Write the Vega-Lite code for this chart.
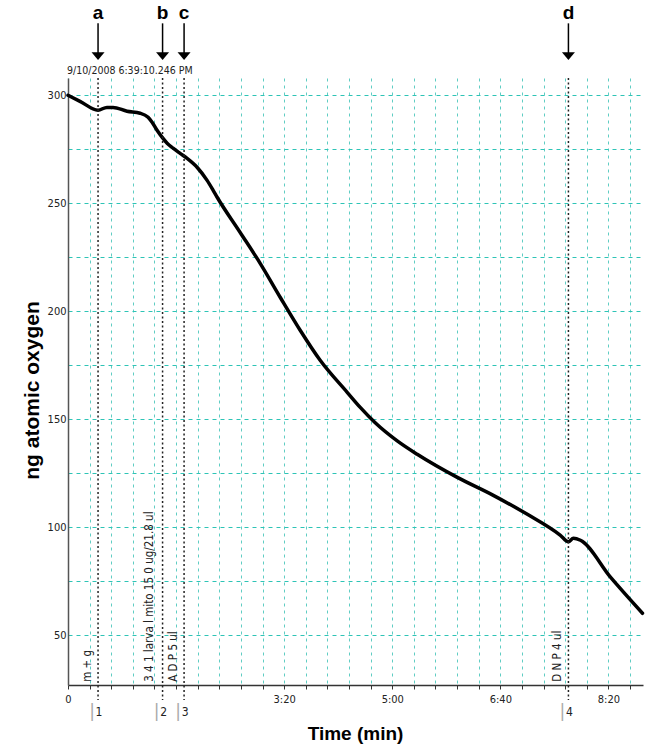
{
  "$schema": "https://vega.github.io/schema/vega-lite/v6.json",
  "width": 575,
  "height": 607,
  "autosize": {"type": "none"},
  "padding": {"left": 68, "top": 78, "right": 8, "bottom": 65},
  "background": "white",
  "config": {"view": {"stroke": null}},
  "datasets": {
    "curve": [
      {"t": 0, "v": 300}, {"t": 11.1, "v": 297.2}, {"t": 27.8, "v": 293.1}, {"t": 36, "v": 294.4},
      {"t": 41.7, "v": 294.4}, {"t": 54.6, "v": 292.6}, {"t": 66.7, "v": 291.7}, {"t": 74.1, "v": 289.8},
      {"t": 77.8, "v": 287.5}, {"t": 82.4, "v": 283.8}, {"t": 87, "v": 280.6}, {"t": 91.7, "v": 277.8},
      {"t": 97.2, "v": 275.5}, {"t": 103.7, "v": 273.1}, {"t": 110.2, "v": 270.8}, {"t": 119.4, "v": 266.7},
      {"t": 128.7, "v": 260.6}, {"t": 134.3, "v": 256.0}, {"t": 138, "v": 252.8}, {"t": 159.3, "v": 236.5},
      {"t": 177.8, "v": 222.2}, {"t": 196.3, "v": 206.5}, {"t": 214.8, "v": 191.2}, {"t": 233.3, "v": 177.3},
      {"t": 258.3, "v": 162.5}, {"t": 270.4, "v": 155.5}, {"t": 284, "v": 148.5}, {"t": 304.6, "v": 140.0},
      {"t": 323.1, "v": 133.8}, {"t": 360.2, "v": 123.1}, {"t": 393.5, "v": 114.8}, {"t": 425, "v": 106.0},
      {"t": 455.6, "v": 96.3}, {"t": 463, "v": 93.3}, {"t": 467.6, "v": 94.9}, {"t": 474.1, "v": 94.0},
      {"t": 501.9, "v": 76.9}, {"t": 531.5, "v": 60.2}
    ],
    "events": [
      {"t": 27.8, "ev": "a", "num": "1"},
      {"t": 87.5, "ev": "b", "num": "2"},
      {"t": 107.4, "ev": "c", "num": "3"},
      {"t": 463, "ev": "d", "num": "4"}
    ],
    "notes": [
      {"t": 18.5, "label": "m + g"},
      {"t": 75.9, "label": "3 4 1 larva l mito 15 0 ug/21.8 ul"},
      {"t": 98, "label": "A D P 5 ul"},
      {"t": 453.7, "label": "D N P 4 ul"}
    ],
    "stamp": [{"t": 0, "label": "9/10/2008 6:39:10.246 PM"}]
  },
  "layer": [
    {
      "data": {"name": "curve"},
      "mark": {"type": "line", "color": "black", "strokeWidth": 3.5, "strokeJoin": "round", "strokeCap": "round", "interpolate": "monotone"},
      "encoding": {
        "x": {
          "field": "t", "type": "quantitative",
          "scale": {"domain": [0, 532], "nice": false, "zero": false},
          "axis": {
            "title": "Time (min)",
            "titleFont": "Liberation Sans", "titleFontSize": 19, "titleFontWeight": "bold", "titleColor": "black",
            "titleBaseline": "alphabetic", "titleY": 54, "titleX": 287,
            "tickCount": 27,
            "labelExpr": "(datum.value % 100 == 0 && datum.value != 100) ? (datum.value == 0 ? '0' : floor(datum.value/60) + ':' + (datum.value % 60 < 10 ? '0' : '') + (datum.value % 60)) : ''",
            "labelFont": "DejaVu Sans Condensed, Liberation Sans",
            "labelFontSize": 11, "labelColor": "#222", "labelPadding": 4, "labelOverlap": false, "labelFlush": false, "labelBound": false,
            "ticks": true, "tickSize": 4, "tickColor": "#333", "tickWidth": 1,
            "domainColor": "#333", "domainWidth": 1.5,
            "grid": true, "gridColor": "#5fcdc3", "gridDash": [3, 4], "gridWidth": 1
          }
        },
        "y": {
          "field": "v", "type": "quantitative",
          "scale": {"domain": [27, 308], "nice": false, "zero": false},
          "axis": {
            "title": "ng atomic oxygen",
            "titleFont": "Liberation Sans", "titleFontSize": 21, "titleFontWeight": "bold", "titleColor": "black",
            "titleX": -26, "titleY": 312, "titleBaseline": "bottom",
            "values": [50,75,100,125,150,175,200,225,250,275,300],
            "labelExpr": "datum.value % 50 == 0 ? datum.value : ''",
            "labelFont": "DejaVu Sans Condensed, Liberation Sans",
            "labelFontSize": 11, "labelColor": "#222", "labelPadding": 2,
            "ticks": false,
            "domainColor": "#555", "domainWidth": 1.5,
            "grid": true, "gridColor": "#2ec4b6", "gridDash": [4, 4], "gridWidth": 1
          }
        }
      }
    },
    {
      "data": {"name": "events"},
      "mark": {"type": "rule", "color": "#222", "strokeWidth": 1.5, "strokeDash": [2, 2.5]},
      "encoding": {
        "x": {"field": "t", "type": "quantitative"},
        "y": {"datum": 308, "type": "quantitative"},
        "y2": {"datum": 20}
      }
    },
    {
      "data": {"name": "events"},
      "mark": {"type": "rule", "color": "black", "strokeWidth": 1.5},
      "encoding": {
        "x": {"field": "t", "type": "quantitative"},
        "y": {"datum": 333.3, "type": "quantitative"},
        "y2": {"datum": 319}
      }
    },
    {
      "data": {"name": "events"},
      "mark": {"type": "point", "shape": "M-1,-0.6L1,-0.6L0,0.6Z", "filled": true, "color": "black", "opacity": 1, "size": 169},
      "encoding": {
        "x": {"field": "t", "type": "quantitative"},
        "y": {"datum": 318.1, "type": "quantitative"}
      }
    },
    {
      "data": {"name": "events"},
      "mark": {"type": "text", "font": "Liberation Sans", "fontSize": 19, "fontWeight": "bold", "color": "black", "baseline": "middle", "align": "center"},
      "encoding": {
        "x": {"field": "t", "type": "quantitative"},
        "y": {"datum": 338, "type": "quantitative"},
        "text": {"field": "ev"}
      }
    },
    {
      "data": {"name": "events"},
      "mark": {"type": "text", "font": "DejaVu Sans Condensed, Liberation Sans", "fontSize": 12, "color": "#222", "baseline": "middle", "align": "center", "dx": 1},
      "encoding": {
        "x": {"field": "t", "type": "quantitative"},
        "y": {"datum": 14.5, "type": "quantitative"},
        "text": {"field": "num"}
      }
    },
    {
      "data": {"name": "events"},
      "mark": {"type": "text", "font": "DejaVu Sans", "fontSize": 17, "color": "#aaa", "baseline": "middle", "align": "center", "dx": -6, "text": "|"},
      "encoding": {
        "x": {"field": "t", "type": "quantitative"},
        "y": {"datum": 14.5, "type": "quantitative"}
      }
    },
    {
      "data": {"name": "stamp"},
      "mark": {"type": "text", "font": "DejaVu Sans Condensed, Liberation Sans", "fontSize": 10.5, "color": "#222", "baseline": "middle", "align": "left", "dx": -1},
      "encoding": {
        "x": {"field": "t", "type": "quantitative"},
        "y": {"datum": 311.2, "type": "quantitative"},
        "text": {"field": "label"}
      }
    },
    {
      "data": {"name": "notes"},
      "mark": {"type": "text", "font": "DejaVu Sans Condensed, Liberation Sans", "fontSize": 11.5, "color": "#222", "baseline": "middle", "align": "left", "angle": 270},
      "encoding": {
        "x": {"field": "t", "type": "quantitative"},
        "y": {"datum": 28.5, "type": "quantitative"},
        "text": {"field": "label"}
      }
    }
  ]
}
